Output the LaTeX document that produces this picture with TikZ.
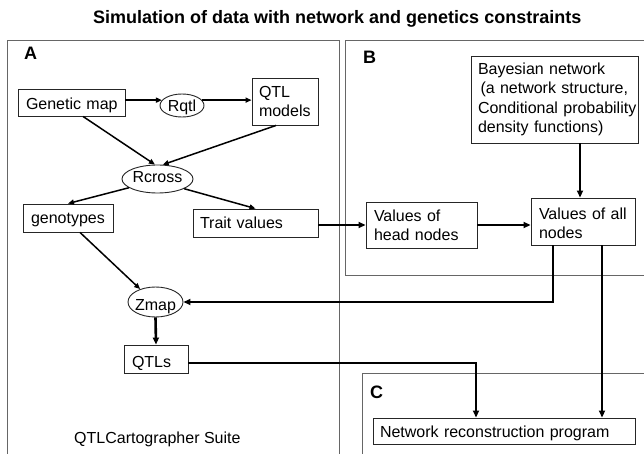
\documentclass[tikz,border=0pt]{standalone}
\usepackage{fontspec}
\setmainfont{Liberation Sans}
\usetikzlibrary{arrows.meta,shapes.geometric,calc}
\begin{document}
\begin{tikzpicture}[x=1pt,y=-1pt,
  txt/.style={font=\fontsize{16}{19.3}\selectfont, text=black},
  bx/.style={draw=black!85, line width=0.9pt, rectangle, inner ysep=0pt, align=left,
             font=\fontsize{16}{19.3}\selectfont},
  el/.style={draw=black!85, line width=0.9pt, ellipse, inner xsep=-4pt, inner ysep=-3pt,
             font=\fontsize{16}{19.3}\selectfont},
  panel/.style={draw=black!60, line width=0.8pt},
  arr/.style={line width=1.5pt, -{Triangle[length=6pt,width=5pt]}},
  tarr/.style={line width=2.6pt, -{Triangle[length=7pt,width=6pt]}},
  marr/.style={line width=2pt, -{Triangle[length=7pt,width=6pt]}},
  lab/.style={font=\fontsize{18}{20}\selectfont\bfseries, anchor=base west, inner sep=0pt}
]
\useasboundingbox (0,0) rectangle (644,454);
\fill[white] (0,0) rectangle (644,454);

% panels
\draw[panel] (7,454) -- (7,40) -- (339,40) -- (339,454);
\draw[panel] (644,40) -- (345,40) -- (345,275) -- (644,275);
\draw[panel] (362,454) -- (362,373) -- (644,373);

% title and labels
\node[font=\fontsize{18}{20}\selectfont\bfseries, anchor=base west, inner sep=0pt] (title) at (93,24)
  {Simulation of data with network and genetics constraints};
\node[lab] (la) at (24,60) {A};
\node[lab] (lb) at (363,64) {B};
\node[lab] (lc) at (370,398) {C};
\node[txt, anchor=base west, inner sep=0pt] (suite) at (74,443) {QTLCartographer Suite};

% boxes
\node[bx, minimum width=107pt, minimum height=27pt, inner xsep=8pt, text width=91pt,
      text height=15pt, text depth=0pt] (gmap) at (71.5,102.5) {\mbox{Genetic map}};
\node[bx, minimum width=66pt, minimum height=47pt, inner xsep=7pt, text width=52pt] (qtlm) at (285,101.5) {QTL\\models};
\node[bx, minimum width=90pt, minimum height=28pt, inner xsep=8pt, text width=74pt,
      text height=10pt, text depth=0pt] (geno) at (68,218) {genotypes};
\node[bx, minimum width=125pt, minimum height=28pt, inner xsep=7pt, text width=111pt,
      text height=10.6pt, text depth=0pt] (trait) at (255.5,223) {\mbox{Trait values}};
\node[bx, minimum width=111pt, minimum height=46pt, inner xsep=8pt, text width=95pt] (head) at (421.5,225) {\rule{0pt}{12.6pt}Values of\\\mbox{head nodes}};
\node[bx, minimum width=104pt, minimum height=47pt, inner xsep=8pt, text width=88pt] (all) at (583,221.5) {\mbox{\rule{0pt}{15pt}Values of all}\\nodes};
\node[bx, minimum width=167pt, minimum height=87pt, inner xsep=7pt, text width=153pt] (bayes) at (554.5,99.5)
  {\mbox{Bayesian network}\\\mbox{\hspace*{2.5pt}(a network structure,}\\\mbox{Conditional probability}\\\mbox{density functions)}};
\node[bx, minimum width=64pt, minimum height=28pt, inner xsep=8pt, text width=48pt,
      text height=16pt, text depth=0pt] (qtls) at (156,359) {QTLs};
\node[bx, minimum width=262pt, minimum height=26pt, inner xsep=7pt, text width=248pt,
      text height=13.4pt, text depth=0pt] (netrec) at (504,431) {\mbox{Network reconstruction program}};

% ellipses
\node[el, minimum width=44pt, minimum height=23pt, text height=12.4pt, text depth=0pt] (rqtl) at (182,105.5) {Rqtl};
\node[el, minimum width=71pt, minimum height=28pt, text height=11.5pt, text depth=4pt] (rcross) at (157.5,179) {Rcross};
\node[el, minimum width=55pt, minimum height=30pt, text height=16pt, text depth=0pt] (zmap) at (155.5,302) {Zmap};

% connectors
\draw[arr] (gmap.east |- rqtl.165) -- (rqtl.165);
\draw[arr] (rqtl.15) -- (qtlm.west |- rqtl.15);
\draw[arr] ([xshift=11.5pt]gmap.south) -- (rcross.100);
\draw[arr] ([xshift=-9pt]qtlm.south) -- (rcross.70);
\draw[arr] (rcross.197) -- (geno.north);
\draw[arr] (rcross.340) -- (trait.north);
\draw[arr] ([xshift=12pt]geno.south) -- (zmap.140);
\draw[tarr] (trait.east |- head.west) -- (head.west);
\draw[tarr] (head.east) -- (all.west |- head.east);
\draw[tarr] ([xshift=-3pt]all.north |- bayes.south) -- ([xshift=-3pt]all.north);
\draw[tarr] ([xshift=-30pt]all.south) |- (zmap.east);
\draw[tarr] ([xshift=19pt]all.south) -- ([xshift=19pt]all.south |- netrec.north);
\draw[tarr] (zmap.south) -- (qtls.north);
\draw[marr] ([yshift=-4pt]qtls.east) -| ([xshift=-28pt]netrec.north);
\end{tikzpicture}
\end{document}
